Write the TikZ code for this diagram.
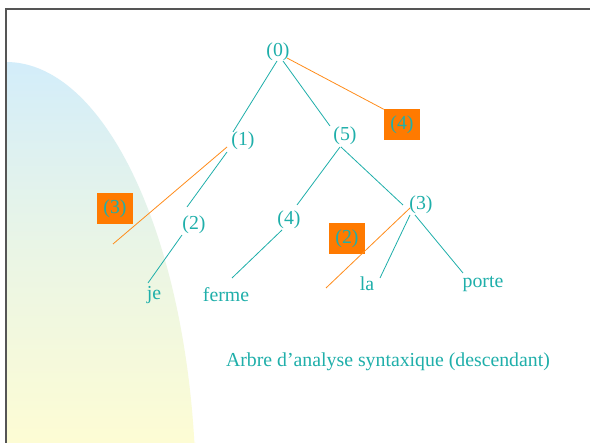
\documentclass[tikz,border=0pt]{standalone}
\usepackage{fontspec}
\setmainfont{Liberation Serif}
\definecolor{teal1}{HTML}{1FAFAA}
\definecolor{orline}{HTML}{FF8C1A}
\definecolor{orbox}{HTML}{FF7A00}
\definecolor{bgblue}{HTML}{D3EDFA}
\definecolor{bgyel}{HTML}{FDFCD4}
\definecolor{framec}{HTML}{555555}
\begin{document}
\begin{tikzpicture}[x=1pt,y=-1pt,
  lbl/.style={text=teal1,font=\fontsize{19.8}{22}\selectfont,inner sep=0pt,yshift=-2pt},
  tbox/.style={fill=orbox,text=teal1,font=\fontsize{19.8}{22}\selectfont,minimum width=36pt,minimum height=31pt,inner sep=0pt},
  edge/.style={draw=teal1,line width=0.8pt},
  oedge/.style={draw=orline,line width=0.8pt}]
\useasboundingbox (0,0) rectangle (590,443);
\fill[white] (0,0) rectangle (590,443);
% background shape
\begin{scope}
\clip (6,443) -- (6,62) arc[start angle=90,end angle=0,x radius=190,y radius=-438] -- (196,443) -- cycle;
\shade[top color=bgblue,bottom color=bgyel,middle color=bgblue!45!bgyel] (6,62) rectangle (200,443);
\end{scope}
% frame
\draw[framec,line width=1.3pt] (6,443) -- (6,9) -- (590,9);
% nodes
\node[lbl] (n0) at (278,50) {(0)};
\node[lbl] (n1) at (243,139) {(1)};
\node[lbl] (n5) at (345,134) {(5)};
\node[lbl] (n2) at (194,223) {(2)};
\node[lbl] (n4) at (289,218) {(4)};
\node[lbl] (n3) at (421,203) {(3)};
\node[lbl] (je) at (154,293) {je};
\node[lbl] (ferme) at (226,293) {ferme};
\node[lbl] (la) at (367,282) {la};
\node[lbl] (porte) at (483,282) {porte};
\node[lbl] (cap) at (388,360) {Arbre d’analyse syntaxique (descendant)};
\node[tbox] (b4) at (402,125) {(4)};
\node[tbox] (b3) at (115,209) {(3)};
\node[tbox] (b2) at (347,239) {(2)};
% teal edges
\coordinate (e0a) at (277,61);
\coordinate (e0b) at (283,61);
\coordinate (e1t) at (233,132);
\coordinate (e5t) at (330,126);
\draw[edge] (e0a) -- (e1t);
\draw[edge] (e0b) -- (e5t);
\draw[edge] (227,152) -- (187,207);
\draw[edge] (182,235) -- (148,283);
\draw[edge] (340,147) -- (297,205);
\draw[edge] (282,230) -- (232,278);
\draw[edge] (341,147) -- (403,205);
\draw[edge] (410,215) -- (380,278);
\draw[edge] (415,215) -- (463,273);
% orange edges
\coordinate (o1) at (113,244);
\coordinate (o3) at (326,288);
\draw[oedge] (287,58) -- (b4.north west);
\draw[oedge] (227,147) -- (o1);
\draw[oedge] (410,208) -- (o3);
\end{tikzpicture}
\end{document}
